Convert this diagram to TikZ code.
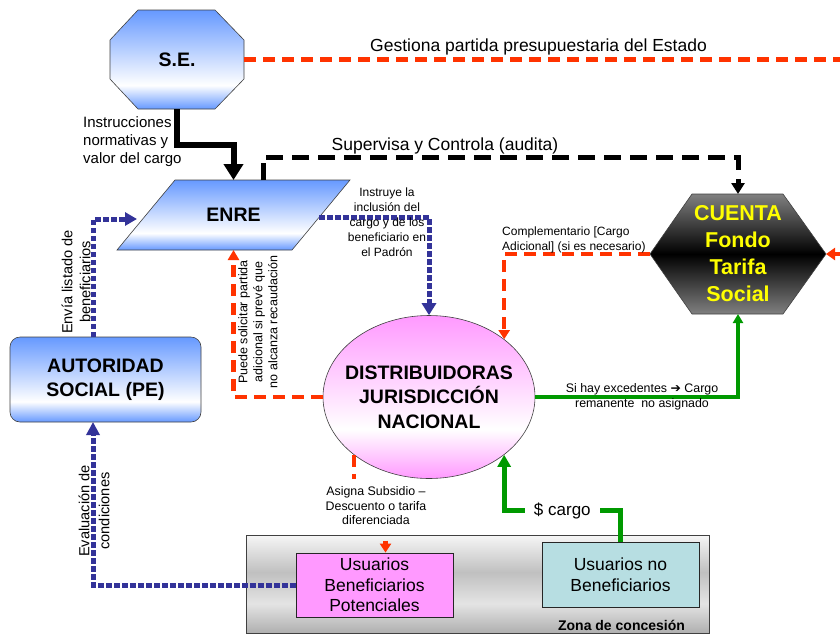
\documentclass[tikz,border=0pt]{standalone}
\usepackage{fontspec}
\setmainfont{Liberation Sans}
\newfontfamily\dejavu{DejaVu Sans}
\usetikzlibrary{arrows.meta,calc,shapes.geometric}
\definecolor{blC}{RGB}{102,153,255}
\definecolor{pkC}{RGB}{255,153,255}
\definecolor{orC}{RGB}{255,51,0}
\definecolor{dbC}{RGB}{51,51,153}
\definecolor{grC}{RGB}{0,153,0}
\definecolor{cyC}{RGB}{183,222,226}
\definecolor{mgC}{RGB}{255,153,255}
\definecolor{yeC}{RGB}{255,255,0}
\definecolor{dkA}{RGB}{128,128,128}
\definecolor{zA}{RGB}{175,175,175}
\definecolor{zB}{RGB}{228,228,228}
\definecolor{zC}{RGB}{192,192,192}
\definecolor{zD}{RGB}{246,246,246}
\pgfdeclareverticalshading{bluegrad}{100bp}{color(0bp)=(blC); color(25bp)=(blC); color(37bp)=(white); color(75bp)=(blC); color(100bp)=(blC)}
\pgfdeclareverticalshading{pinkgrad}{100bp}{color(0bp)=(pkC); color(25bp)=(pkC); color(40bp)=(white); color(75bp)=(pkC); color(100bp)=(pkC)}
\pgfdeclareverticalshading{darkgrad}{100bp}{color(0bp)=(dkA); color(25bp)=(dkA); color(50bp)=(black); color(75bp)=(dkA); color(100bp)=(dkA)}
\pgfdeclareverticalshading{zonagrad}{100bp}{color(0bp)=(zA); color(25bp)=(zA); color(40bp)=(zB); color(56bp)=(zC); color(75bp)=(zD); color(100bp)=(zD)}
\begin{document}
\begin{tikzpicture}[x=1pt,y=-1pt,
  anchorbox/.style={rectangle,inner sep=0pt,outer sep=0pt,draw=none},
  big/.style={font=\bfseries\fontsize{19.5}{24.5}\selectfont,align=center},
  lbl/.style={font=\fontsize{12.4}{14.5}\selectfont,align=center,inner sep=1pt},
  mid/.style={font=\fontsize{14.6}{18}\selectfont,align=center,inner sep=1pt},
  orl/.style={draw=orC,line width=4.5pt,dash pattern=on 12pt off 7pt},
  bll/.style={draw=dbC,line width=5pt,dash pattern=on 5.5pt off 2.5pt},
  bkl/.style={draw=black,line width=5pt,dash pattern=on 17pt off 9pt},
  grl/.style={draw=grC,line width=3.5pt},
  shapeline/.style={draw=black!75,line width=0.6pt}
]
\useasboundingbox (0,0) rectangle (840,635);

% ---------- shapes ----------
\shadedraw[shading=bluegrad,shapeline] (138,10)--(215,10)--(244,40)--(244,79)--(215,109)--(138,109)--(110,79)--(110,40)--cycle;
\node[anchorbox,minimum width=134pt,minimum height=99pt] (SE) at (177,59.5) {};

\shadedraw[shading=bluegrad,shapeline] (175,180)--(350,180)--(292,250)--(117,250)--cycle;
\node[anchorbox,minimum width=233pt,minimum height=70pt] (ENRE) at (233.5,215) {};

\shadedraw[shading=darkgrad,shapeline] (650,254)--(692,194)--(783,194)--(826,254)--(783,314)--(692,314)--cycle;
\node[anchorbox,minimum width=176pt,minimum height=120pt] (C) at (738,254) {};

\node[rectangle,shapeline,shade,shading=zonagrad,minimum width=463pt,minimum height=98pt,inner sep=0pt] (Z) at (477.5,584) {};

\node[ellipse,shapeline,shade,shading=pinkgrad,minimum width=212pt,minimum height=163pt,inner sep=0pt] (D) at (429,397) {};

\node[rectangle,rounded corners=10pt,shapeline,shade,shading=bluegrad,minimum width=191pt,minimum height=85pt,inner sep=0pt,big] (AS) at (105.5,379.5) {AUTORIDAD\\SOCIAL (PE)};

\node[rectangle,draw=black!85,line width=0.8pt,fill=mgC,minimum width=157pt,minimum height=64pt,inner sep=0pt,font=\fontsize{17.5}{20.5}\selectfont,align=center] (UBP) at (374.5,585) {Usuarios\\Beneficiarios\\Potenciales};

\node[rectangle,draw=black!85,line width=0.8pt,fill=cyC,minimum width=157pt,minimum height=65pt,inner sep=0pt,font=\fontsize{17.5}{21}\selectfont,align=center] (UNB) at (620.5,574.5) {Usuarios no\\Beneficiarios};

% ---------- helper coordinates ----------
\coordinate (edgeA) at (840,59.5);
\coordinate (edgeB) at (840,254);
\coordinate (enreT) at (263,180);
\coordinate (enreR) at (319,217);
\coordinate (enreL) at (137,219);
\coordinate (asN) at (93,337);
\coordinate (asS) at (93,422);

% ---------- connectors ----------
\draw[orl] (SE.east) -- (edgeA);
\draw[orl,-{Triangle[length=9pt,width=12pt]}] (edgeB) -- (C.east);

\draw[line width=6pt,line join=miter,-{Triangle[length=16pt,width=19pt]}] (SE.south) -- ++(0,36) -| (ENRE.north);

\draw[bkl,-{Triangle[length=11pt,width=13pt]}] (enreT) -- ++(0,-23) -| (C.north);

\draw[bll,-{Triangle[length=12pt,width=14pt]}] (enreR) -| (D.north);
\draw[bll,-{Triangle[length=12pt,width=13pt]}] (asN) |- (enreL);
\draw[bll,-{Triangle[length=13pt,width=13pt]}] (UBP.west) -| (asS);

\draw[orl,-{Triangle[length=10pt,width=11pt]}] (D.west) -| (ENRE.south);
\draw[orl,-{Triangle[length=9pt,width=11pt]}] (C.west) -| (D.north east);

\draw[grl,-{Triangle[length=9pt,width=10pt]}] (D.east) -| (C.south);
\draw[draw=grC,line width=5pt,line join=miter,-{Triangle[length=12pt,width=13pt]}] (UNB.north) -- ++(0,-31) -| node[pos=0.25,fill=white,inner xsep=9pt,inner ysep=2pt,text=black,font=\fontsize{17}{20}\selectfont] (cargo) {\$ cargo} (D.south east);

\draw[orl] (D.south west) -- ++(0,24);
\draw[orl,-{Triangle[length=9pt,width=11pt]}] ($(UBP.north)+(11,-12)$) -- ($(UBP.north)+(11,0)$);

% ---------- texts in shapes ----------
\node[big] (SEt) at (SE.center) {S.E.};
\node[big] (ENREt) at (ENRE.center) {ENRE};
\node[big] (Dt) at (D.center) {DISTRIBUIDORAS\\JURISDICCIÓN\\NACIONAL};
\node[font=\bfseries\fontsize{21.5}{27}\selectfont,text=yeC,align=center] (Ct) at (C.center) {CUENTA\\Fondo\\Tarifa\\Social};
\node[font=\bfseries\fontsize{14}{17}\selectfont,inner sep=0pt] (zonat) at (621.5,625) {Zona de concesión};

% ---------- labels ----------
\node[font=\fontsize{17.5}{21}\selectfont,inner sep=0pt] (gest) at (538.5,47) {Gestiona partida presupuestaria del Estado};
\node[font=\fontsize{17.5}{21}\selectfont,inner sep=0pt] (superv) at (445,146) {Supervisa y Controla (audita)};
\node[font=\fontsize{15}{18}\selectfont,align=left,anchor=west,inner sep=0pt] (instr) at (83,142) {Instrucciones\\normativas y\\valor del cargo};
\node[lbl,font=\fontsize{12}{15}\selectfont] (instruye) at (387,222) {Instruye la\\inclusión del\\cargo y de los\\beneficiario en\\el Padrón};
\node[lbl,font=\fontsize{12}{15}\selectfont,align=left,anchor=west] (compl) at (501,240) {Complementario [Cargo\\Adicional] (si es necesario)};
\node[lbl] (exced) at (642,397) {Si hay excedentes {\dejavu ➔} Cargo\\remanente\ \ no asignado};
\node[lbl] (asigna) at (376,506) {Asigna Subsidio –\\Descuento o tarifa\\diferenciada};
\node[lbl,font=\fontsize{12.5}{15}\selectfont,rotate=90] (puede) at (258,322) {Puede solicitar partida\\adicional si prevé que\\no alcanza recaudación};
\node[mid,rotate=90] (envia) at (76,282) {Envía listado de\\beneficiarios};
\node[mid,font=\fontsize{14.6}{20}\selectfont,rotate=90] (evalua) at (94,511) {Evaluación de\\condiciones};
\end{tikzpicture}
\end{document}
